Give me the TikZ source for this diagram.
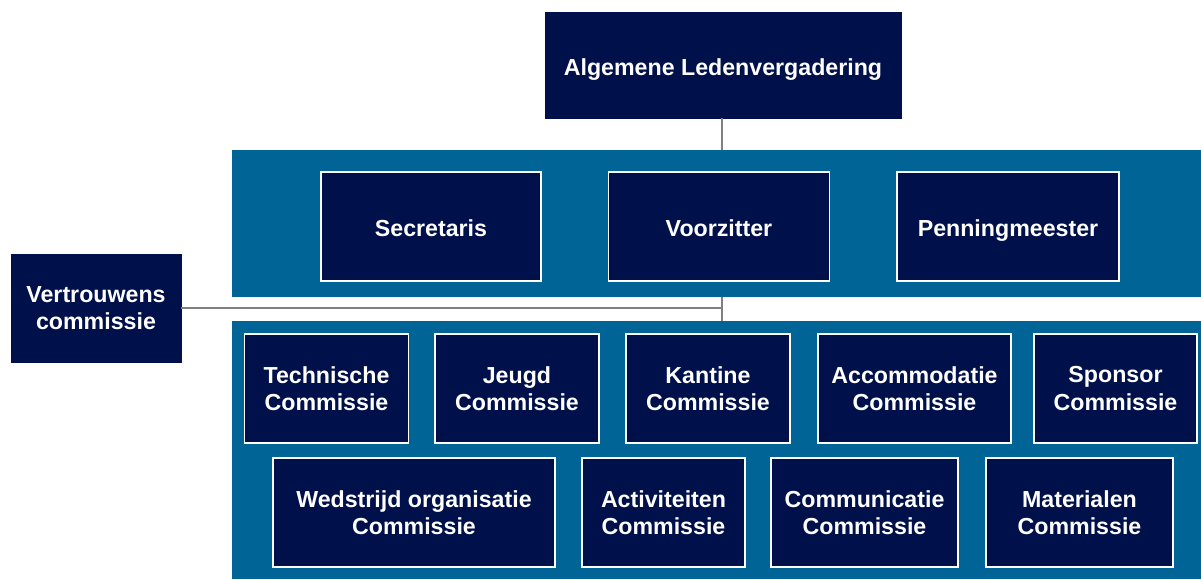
\documentclass[tikz,border=0pt]{standalone}
\usepackage{fontspec}
\setmainfont{Liberation Sans}
\definecolor{navy}{HTML}{00104A}
\definecolor{band}{HTML}{006496}
\definecolor{link}{HTML}{808080}
\begin{document}
\begin{tikzpicture}[x=0.02cm,y=-0.02cm]
	\tikzstyle{every node}=[font=\fontsize{13.2}{15.5}\selectfont\bfseries, text=white, align=center, inner sep=0pt]
	\tikzstyle{box}=[fill=navy, draw=white, line width=1.1pt, minimum height=2.18cm]
	\tikzstyle{topbox}=[fill=navy, draw=navy, line width=0.5pt, minimum height=2.12cm]
	\tikzstyle{oneline}=[text height=11.6pt, text depth=0pt]
	\tikzstyle{bandbox}=[fill=band, draw=none]
	\tikzstyle{connect}=[draw=link, line width=0.85pt]

	\useasboundingbox (0,0) rectangle (1201,579);

	% bands
	\node[bandbox, minimum width=19.38cm, minimum height=2.94cm] (bestuur) at (716.5,223.5) {};
	\node[bandbox, minimum width=19.38cm, minimum height=5.16cm] (commissies) at (716.5,450) {};

	% top
	\node[topbox, oneline, minimum width=7.12cm] (alv) at (723,65) {Algemene Ledenvergadering};
	\node[topbox, minimum width=3.4cm, minimum height=2.16cm] (vc) at (96,308) {Vertrouwens\\commissie};

	% bestuur
	\node[box, oneline, minimum width=4.4cm] (sec) at (431,226.5) {Secretaris};
	\node[box, oneline, minimum width=4.42cm] (voo) at (719,226.5) {Voorzitter};
	\node[box, oneline, minimum width=4.44cm] (pen) at (1008,226.5) {Penningmeester};

	% commissies, first row
	\node[box, minimum width=3.28cm] (tech) at (326.5,388.5) {Technische\\Commissie};
	\node[box, minimum width=3.28cm] (jeugd) at (517,388.5) {Jeugd\\Commissie};
	\node[box, minimum width=3.28cm] (kantine) at (708,388.5) {Kantine\\Commissie};
	\node[box, minimum width=3.86cm] (accom) at (914.5,388.5) {Accommodatie\\Commissie};
	\node[box, minimum width=3.26cm] (sponsor) at (1115.5,388.5) {Sponsor\\Commissie};

	% commissies, second row
	\node[box, minimum width=5.64cm] (wedstrijd) at (414,512.5) {Wedstrijd organisatie\\Commissie};
	\node[box, minimum width=3.26cm] (activ) at (663.5,512.5) {Activiteiten\\Commissie};
	\node[box, minimum width=3.74cm] (commun) at (864.5,512.5) {Communicatie\\Commissie};
	\node[box, minimum width=3.74cm] (mater) at (1079.5,512.5) {Materialen\\Commissie};

	% lines
	\coordinate (mid) at (722,308);
	\draw[connect] (alv.south -| mid) -- (bestuur.north -| mid);
	\draw[connect] (bestuur.south -| mid) -- (commissies.north -| mid);
	\draw[connect] (vc.east) -- (mid);
\end{tikzpicture}
\end{document}
